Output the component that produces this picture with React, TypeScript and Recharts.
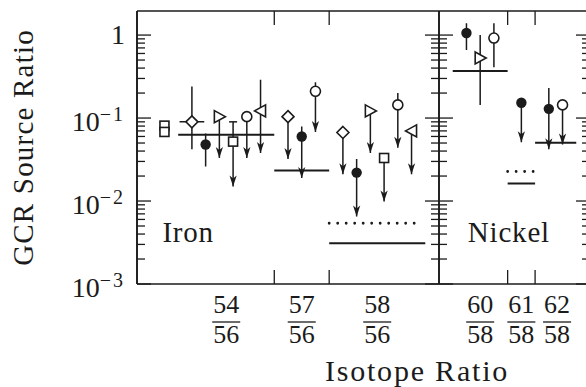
import { ComposedChart, Line, Scatter, XAxis, YAxis, ReferenceDot } from "recharts";

const INK = "#1b1b1b";
const FONT = '"Liberation Serif", "Times New Roman", serif';

// x axis: isotope ratio labels and where they sit (slot units)
const ironRatios = [["54", "56"], ["57", "56"], ["58", "56"]];
const ironRatioAt = [6.5, 12, 17.5];
const ironBounds = [10, 14];
const nickelRatios = [["60", "58"], ["61", "58"], ["62", "58"]];
const nickelRatioAt = [25, 28, 30.6];
const nickelBounds = [27, 29];

// y axis (log)
const decades = [0.001, 0.01, 0.1, 1];
const decadeBase = ["10", "10", "10", "1"];
const decadeExp = ["−3", "−2", "−1", ""];
const minorTicks = [
  0.002, 0.003, 0.004, 0.005, 0.006, 0.007, 0.008, 0.009,
  0.02, 0.03, 0.04, 0.05, 0.06, 0.07, 0.08, 0.09,
  0.2, 0.3, 0.4, 0.5, 0.6, 0.7, 0.8, 0.9,
];

// iron measurements
const ironSlot = [2, 2, 4, 5, 6, 7, 8, 9, 11, 12, 13, 15, 16, 17, 18, 19, 20];
const ironMark = ["square", "square", "diamond", "dot", "rtri", "square", "circle", "ltri",
  "diamond", "dot", "circle", "diamond", "dot", "rtri", "square", "circle", "ltri"];
const ironValue = [0.081, 0.068, 0.09, 0.048, 0.104, 0.052, 0.104, 0.122, 0.104, 0.06, 0.21,
  0.067, 0.022, 0.122, 0.033, 0.144, 0.07];
const ironTop = [null, null, 0.24, 0.065, null, 0.09, null, 0.29, null, 0.079, 0.27,
  null, 0.032, null, null, 0.2, null];
const ironLow = [null, null, 0.042, 0.026, 0.033, 0.015, 0.033, 0.038, 0.032, 0.019, 0.068,
  0.021, 0.0065, 0.038, 0.0099, 0.044, 0.021];
const ironLimit = [false, false, false, false, true, true, true, true, true, true, true,
  true, true, true, true, true, true];
const ironCapped = [false, false, false, false, false, true, false, false, false, false, false,
  false, false, false, false, false, false];
const ironXErr = [0, 0, 0.9, 0, 0, 0, 0, 0, 0, 0, 0, 0, 0, 0, 0, 0, 0];

// iron predictions
const ironModelFrom = [3, 10, 14];
const ironModelTo = [10, 14, 21];
const ironModelValue = [0.063, 0.0233, 0.0031];
const ironDotFrom = [14];
const ironDotTo = [20.8];
const ironDotValue = [0.0054];

// nickel measurements
const nickelSlot = [24, 25, 26, 28, 30, 31];
const nickelMark = ["dot", "rtri", "circle", "dot", "dot", "circle"];
const nickelValue = [1.06, 0.53, 0.92, 0.153, 0.129, 0.144];
const nickelTop = [1.39, 1.0, 1.39, null, 0.23, null];
const nickelLow = [0.66, 0.144, 0.41, 0.051, 0.042, 0.048];
const nickelLimit = [false, false, false, true, true, true];
const nickelCapped = [false, false, false, false, false, false];
const nickelXErr = [0, 0, 0, 0, 0, 0];

// nickel predictions
const nickelModelFrom = [23, 27, 29];
const nickelModelTo = [27, 29, 32];
const nickelModelValue = [0.37, 0.0163, 0.0505];
const nickelDotFrom = [27];
const nickelDotTo = [29];
const nickelDotValue = [0.0227];

const panelNames = ["Iron", "Nickel"];
const panelNameX = [1.85, 24.1];
const panelNameY = 0.0032;

function markData(slot: number[], mark: string[], value: number[]) {
  return slot.map((x, i) => ({ x, y: value[i], mark: mark[i] }));
}

function barData(slot: number[], value: number[], top: (number | null)[], low: (number | null)[],
  limit: boolean[], capped: boolean[], xErr: number[]) {
  const out: any[] = [];
  slot.forEach((x, i) => {
    if (low[i] != null) {
      out.push({ x, y: top[i] ?? value[i], cap: capped[i] }, { x, y: low[i], arrow: limit[i] }, { x, y: null });
    }
    if (xErr[i]) {
      out.push({ x: x - xErr[i], y: value[i] }, { x: x + xErr[i], y: value[i] }, { x, y: null });
    }
  });
  return out;
}

function levelData(from: number[], to: number[], value: number[]) {
  const out: any[] = [];
  value.forEach((y, i) => out.push({ x: from[i], y }, { x: to[i], y }, { x: to[i], y: null }));
  return out;
}

const blank = () => <g />;

const fracTick = (at: number[], ratios: string[][]) => (p: any) => {
  const i = at.indexOf(p.payload.value);
  const [num, den] = ratios[i] ?? ["", ""];
  return (
    <g>
      <text x={p.x} y={p.y + 29} textAnchor="middle" fontSize={26} fontFamily={FONT} fill={INK}>{num}</text>
      <line x1={p.x - 14} x2={p.x + 14} y1={p.y + 38} y2={p.y + 38} stroke={INK} strokeWidth={1.3} />
      <text x={p.x} y={p.y + 59} textAnchor="middle" fontSize={26} fontFamily={FONT} fill={INK}>{den}</text>
    </g>
  );
};

const yTick = (p: any) => {
  const i = decades.indexOf(p.payload.value);
  if (!decadeExp[i]) {
    return <text x={p.x} y={p.y + 9} textAnchor="end" fontSize={28} fontFamily={FONT} fill={INK}>{decadeBase[i]}</text>;
  }
  return (
    <text x={p.x} y={p.y + 13} textAnchor="end" fontSize={28} fontFamily={FONT} fill={INK}>
      <tspan>{decadeBase[i]}</tspan>
      <tspan dy={-10} fontSize={20} letterSpacing={2}>{decadeExp[i]}</tspan>
    </text>
  );
};

const yTitle = (p: any) => {
  const vb = p.viewBox;
  const cx = vb.x + 33;
  const cy = vb.y + vb.height / 2;
  return (
    <text transform={`rotate(-90 ${cx} ${cy})`} x={cx} y={cy} textAnchor="middle" fontSize={29}
      letterSpacing={1.2} fontFamily={FONT} fill={INK}>GCR Source Ratio</text>
  );
};

const xTitle = (p: any) => {
  const vb = p.viewBox;
  return (
    <text x={vb.x + 280} y={vb.y + 97} textAnchor="middle" fontSize={30} letterSpacing={1.8}
      fontFamily={FONT} fill={INK}>Isotope Ratio</text>
  );
};

const panelLabel = (name: string) => (p: any) => (
  <text x={p.viewBox.x} y={p.viewBox.y} fontSize={29} letterSpacing={0.8} fontFamily={FONT} fill={INK}>{name}</text>
);

const barEnd = (p: any) => {
  const { cx, cy, payload, index } = p;
  if (cy == null || Number.isNaN(cy) || !payload) return <g key={`e${index}`} />;
  if (payload.arrow) {
    return <path key={`e${index}`} d={`M${cx},${cy} L${cx - 3.6},${cy - 11} L${cx},${cy - 8} L${cx + 3.6},${cy - 11} Z`} fill={INK} />;
  }
  if (payload.cap) {
    return <line key={`e${index}`} x1={cx - 4} x2={cx + 4} y1={cy} y2={cy} stroke={INK} strokeWidth={1.5} />;
  }
  return <g key={`e${index}`} />;
};

const marker = (p: any) => {
  const { cx, cy } = p;
  const mark = p.payload?.mark ?? p.mark;
  const open = { fill: "#fff", stroke: INK, strokeWidth: 1.6 };
  switch (mark) {
    case "dot":
      return <circle cx={cx} cy={cy} r={5.2} fill={INK} />;
    case "circle":
      return <circle cx={cx} cy={cy} r={5} {...open} />;
    case "diamond":
      return <path d={`M${cx},${cy - 6} L${cx + 6},${cy} L${cx},${cy + 6} L${cx - 6},${cy} Z`} {...open} />;
    case "square":
      return <rect x={cx - 4.5} y={cy - 4.5} width={9} height={9} {...open} />;
    case "rtri":
      return <path d={`M${cx - 5},${cy - 6} L${cx + 6},${cy} L${cx - 5},${cy + 6} Z`} {...open} />;
    case "ltri":
      return <path d={`M${cx + 5},${cy - 6} L${cx - 6},${cy} L${cx + 5},${cy + 6} Z`} {...open} />;
    default:
      return <g />;
  }
};

// mirror axes only draw the inward tick marks and the frame; a hair of size keeps them rendered
const HAIR = 0.01;

function Panel(props: any) {
  const { xDomain, ratios, ratioAt, bounds, marks, bars, levels, dotted, name, nameX, left, right, labelled } = props;
  const logY = { type: "number" as const, scale: "log" as const, domain: [0.001, 1.95], allowDataOverflow: true, interval: 0 };
  const linX = { type: "number" as const, dataKey: "x", domain: xDomain, allowDataOverflow: true, interval: 0 };
  const frame = { stroke: INK, strokeWidth: 1.6 };
  const tickLine = { stroke: INK, strokeWidth: 1.3 };
  return (
    <ComposedChart width={600} height={387} data={marks} margin={{ top: 11, right, bottom: 0, left }}>
      <XAxis xAxisId="x" {...linX} ticks={ratioAt} height={103} tickLine={false} tickSize={0} tickMargin={0}
        axisLine={frame} tick={fracTick(ratioAt, ratios)} label={labelled ? xTitle : undefined} />
      <XAxis xAxisId="xb" {...linX} mirror height={HAIR} ticks={bounds} tickSize={14} tickLine={tickLine}
        axisLine={false} tick={blank} />
      <XAxis xAxisId="xt" {...linX} orientation="top" mirror height={HAIR} ticks={bounds} tickSize={14}
        tickLine={tickLine} axisLine={frame} tick={blank} />
      <YAxis yAxisId="y" {...logY} hide={!labelled} width={137} ticks={decades} tickLine={false} tickSize={0}
        tickMargin={12} axisLine={frame} tick={yTick} label={yTitle} />
      <YAxis yAxisId="lmaj" {...logY} mirror width={HAIR} ticks={decades} tickSize={14} tickLine={tickLine}
        axisLine={frame} tick={blank} />
      <YAxis yAxisId="lmin" {...logY} mirror width={HAIR} ticks={minorTicks} tickSize={8} tickLine={tickLine}
        axisLine={false} tick={blank} />
      <YAxis yAxisId="rmaj" orientation="right" {...logY} mirror width={HAIR} ticks={decades} tickSize={14}
        tickLine={tickLine} axisLine={frame} tick={blank} />
      <YAxis yAxisId="rmin" orientation="right" {...logY} mirror width={HAIR} ticks={minorTicks} tickSize={8}
        tickLine={tickLine} axisLine={false} tick={blank} />
      <Line xAxisId="x" yAxisId="y" data={levels} dataKey="y" stroke={INK} strokeWidth={2} dot={false}
        activeDot={false} isAnimationActive={false} connectNulls={false} />
      <Line xAxisId="x" yAxisId="y" data={dotted} dataKey="y" stroke={INK} strokeWidth={2.8} strokeDasharray="0 8.5"
        strokeLinecap="round" dot={false} activeDot={false} isAnimationActive={false} connectNulls={false} />
      <Line xAxisId="x" yAxisId="y" data={bars} dataKey="y" stroke={INK} strokeWidth={1.5} dot={barEnd}
        activeDot={false} isAnimationActive={false} connectNulls={false} />
      <Scatter xAxisId="x" yAxisId="y" data={marks} dataKey="y" shape={marker} isAnimationActive={false} />
      <ReferenceDot xAxisId="x" yAxisId="y" x={nameX} y={panelNameY} r={0} fill="none" stroke="none"
        label={panelLabel(name)} />
    </ComposedChart>
  );
}

export default function App() {
  return (
    <div style={{ position: "fixed", left: 0, top: 0, width: 586, height: 387, overflow: "hidden", background: "#fff" }}>
      <div style={{ position: "absolute", left: 0, top: 0 }}>
        <Panel
          labelled
          xDomain={[0, 22]}
          ratios={ironRatios}
          ratioAt={ironRatioAt}
          bounds={ironBounds}
          marks={markData(ironSlot, ironMark, ironValue)}
          bars={barData(ironSlot, ironValue, ironTop, ironLow, ironLimit, ironCapped, ironXErr)}
          levels={levelData(ironModelFrom, ironModelTo, ironModelValue)}
          dotted={levelData(ironDotFrom, ironDotTo, ironDotValue)}
          name={panelNames[0]}
          nameX={panelNameX[0]}
          left={0}
          right={161}
        />
      </div>
      <div style={{ position: "absolute", left: 0, top: 0 }}>
        <Panel
          labelled={false}
          xDomain={[22, 33]}
          ratios={nickelRatios}
          ratioAt={nickelRatioAt}
          bounds={nickelBounds}
          marks={markData(nickelSlot, nickelMark, nickelValue)}
          bars={barData(nickelSlot, nickelValue, nickelTop, nickelLow, nickelLimit, nickelCapped, nickelXErr)}
          levels={levelData(nickelModelFrom, nickelModelTo, nickelModelValue)}
          dotted={levelData(nickelDotFrom, nickelDotTo, nickelDotValue)}
          name={panelNames[1]}
          nameX={panelNameX[1]}
          left={439}
          right={10}
        />
      </div>
    </div>
  );
}
